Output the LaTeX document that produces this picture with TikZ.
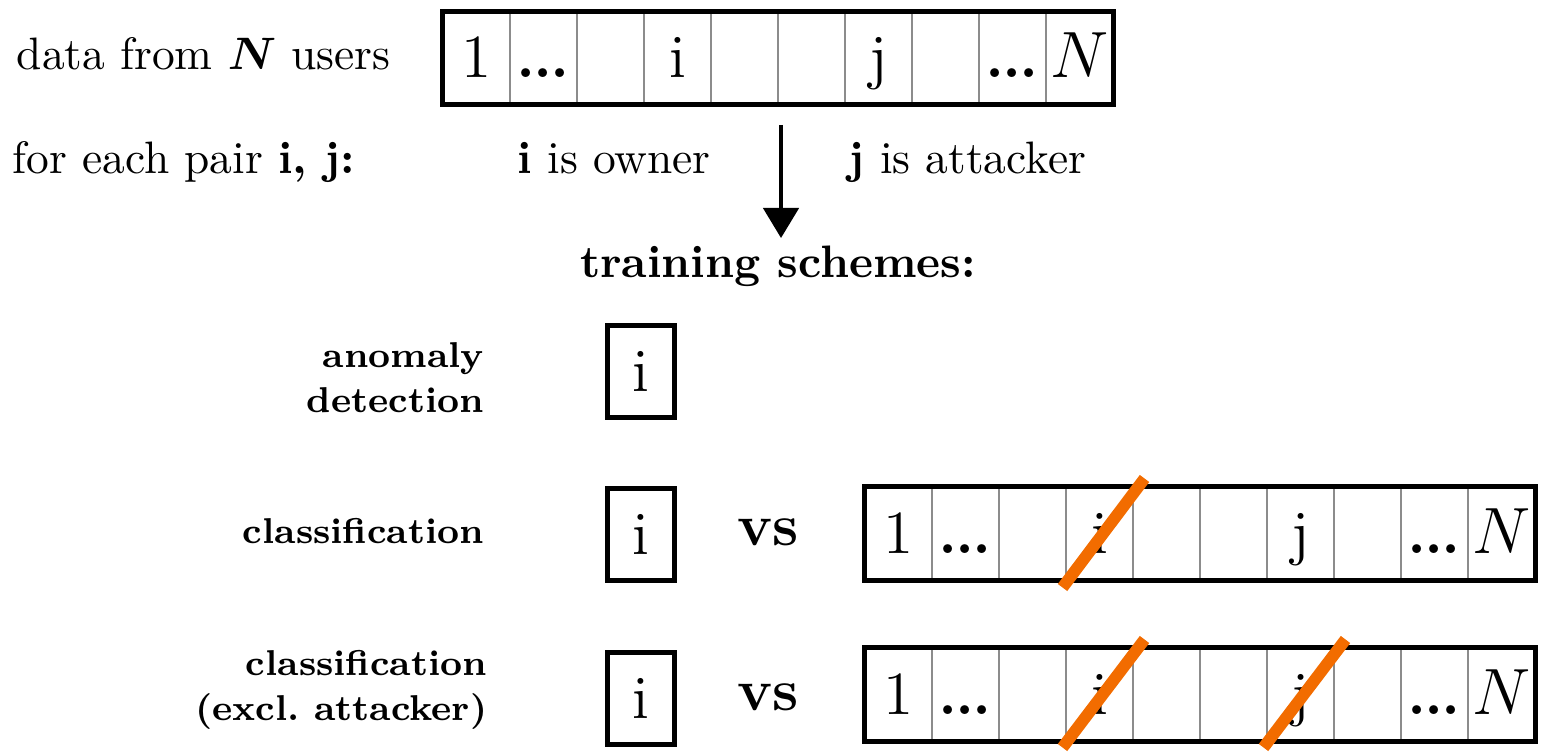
\documentclass[tikz,border=0pt]{standalone}
\usepackage{bm}
\usetikzlibrary{arrows.meta}
\definecolor{slashorange}{RGB}{242,108,0}
\newcommand{\udots}{\textbf{.\kern-0.5pt.\kern-0.5pt.}}
\newcommand{\userbar}[4]{%
  \foreach \lab [count=\k] in {#4} {
    \node[cellbox] (#1-\k) at ({#2+33.5+67*(\k-1)},#3) {\lab};
  }
  \draw[border] (#1-1.north west) rectangle (#1-10.south east);
}
\begin{document}
\begin{tikzpicture}[x=0.22pt,y=-0.22pt,
  cellbox/.style={draw=black!45, line width=0.35pt, minimum width=14.74pt,
    minimum height=20.24pt, inner sep=0pt, text height=12.8pt, text depth=4pt,
    font=\fontsize{13.5}{16}\selectfont},
  border/.style={draw=black, line width=1.1pt},
  ibox/.style={draw=black, line width=1.1pt, minimum width=14.74pt,
    minimum height=20.24pt, inner sep=0pt, text height=12.8pt, text depth=4pt,
    font=\fontsize{13.5}{16}\selectfont},
  txt/.style={inner sep=0pt, font=\fontsize{10}{12}\selectfont},
  scheme/.style={inner sep=0pt, align=right, font=\fontsize{7.9}{9.9}\selectfont\bfseries},
  vslabel/.style={inner sep=0pt, font=\fontsize{13}{15}\selectfont\bfseries},
  slash/.style={draw=slashorange, line width=2.6pt},
  flow/.style={draw=black, line width=0.7pt, -{Triangle[width=7.8pt,length=6.6pt]}}
]
\useasboundingbox (0,0) rectangle (1542,752);

% top bar
\userbar{b1}{443}{58}{1,\udots,{},i,{},{},j,{},\udots,$N$}
\node[txt, anchor=base west] (data) at (16,70) {data from $\bm{N}$ users};
\node[txt, anchor=base west] (pair) at (12,174) {for each pair \textbf{i, j:}};
\node[txt, anchor=base west] (owner) at (517,174) {\textbf{i} is owner};
\node[txt, anchor=base west] (attacker) at (848,174) {\textbf{j} is attacker};
\node[txt, anchor=base, font=\fontsize{10}{12}\selectfont\bfseries] (train) at (778,278) {training schemes:};
\coordinate (arrS) at (781,125);
\coordinate (arrE) at (781,238);
\draw[flow] (arrS) -- (arrE);

% anomaly detection
\node[scheme, anchor=east] (anom) at (485,378) {anomaly\\detection};
\node[ibox] (i1) at (640.5,372) {i};

% classification
\node[scheme, anchor=base east] (cls) at (485,543) {classification};
\node[ibox] (i2) at (640.5,534.5) {i};
\node[vslabel, anchor=base] (vs1) at (768,546) {vs};
\userbar{b2}{865}{533.5}{1,\udots,{},i,{},{},j,{},\udots,$N$}
\draw[slash] ([shift={(-37,54)}]b2-4.center) -- ([shift={(45,-55)}]b2-4.center);

% classification excl attacker
\node[scheme, anchor=east] (clsx) at (488,690) {classification\\(excl.\ attacker)};
\node[ibox] (i3) at (640.5,698.5) {i};
\node[vslabel, anchor=base] (vs2) at (768,710) {vs};
\userbar{b3}{865}{694.5}{1,\udots,{},i,{},{},j,{},\udots,$N$}
\draw[slash] ([shift={(-37,53)}]b3-4.center) -- ([shift={(45,-55)}]b3-4.center);
\draw[slash] ([shift={(-37,53)}]b3-7.center) -- ([shift={(45,-55)}]b3-7.center);
\end{tikzpicture}
\end{document}
